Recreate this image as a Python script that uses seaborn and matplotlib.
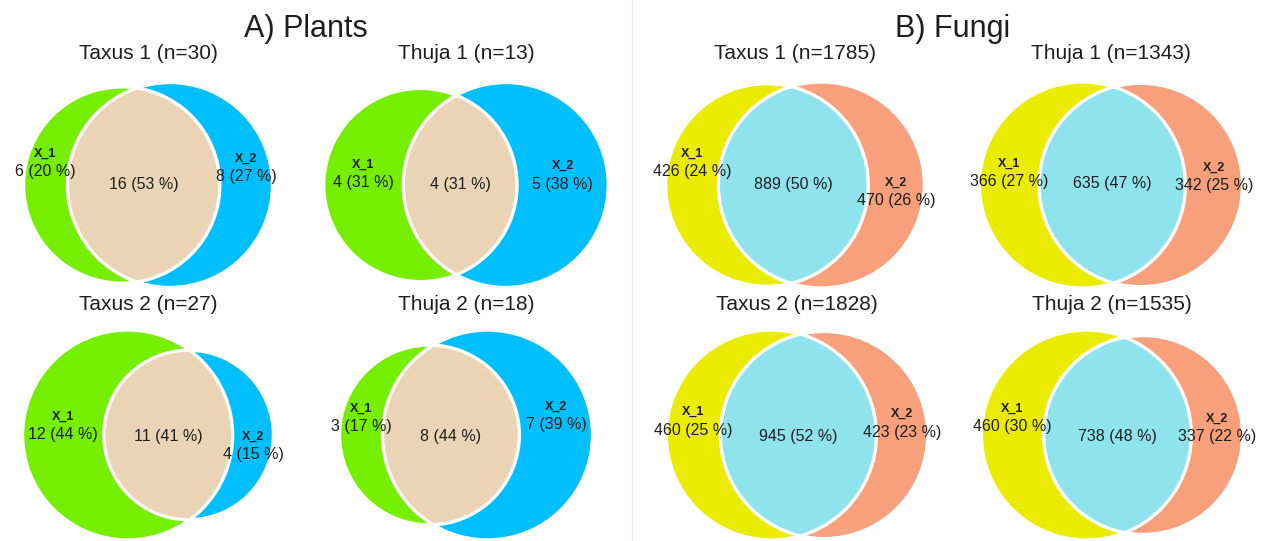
import numpy as np
import matplotlib
matplotlib.use("Agg")
import matplotlib.pyplot as plt
from matplotlib.patches import Circle
from matplotlib.lines import Line2D
import seaborn as sns

# ---------------- data ----------------
panel_titles = ["A) Plants", "B) Fungi"]
group_names = ["Taxus 1", "Thuja 1", "Taxus 2", "Thuja 2",
               "Taxus 1", "Thuja 1", "Taxus 2", "Thuja 2"]
set_names = ["X_1", "X_2"]
only_x1 = [6, 4, 12, 3, 426, 366, 460, 460]
both = [16, 4, 11, 8, 889, 635, 945, 738]
only_x2 = [8, 5, 4, 7, 470, 342, 423, 337]
panel_of = [0, 0, 0, 0, 1, 1, 1, 1]

plant_colors = ["#76EE00", "#00BFFF", "#EBD4B6"]
fungi_colors = ["#EBEB00", "#F8A07C", "#8EE3EC"]

# ---------------- layout (pixels) ----------------
W, H = 1268, 541
col_x = [148, 466, 148, 466, 795, 1111, 797, 1112]
row_y = [185, 185, 435, 435, 185, 185, 435, 435]
cell_h = [205, 205, 210, 210, 206, 206, 210, 210]
cell_w = 305
title_base = [59, 59, 310, 310, 59, 59, 310, 310]
panel_x = [306, 953]
# vertical offsets (px, + = down) of the count labels: X_1, both, X_2
lab_dy = [(-13, 0, -8), (-2, -1, -1), (0, 2, 20), (-8, 1, -10),
          (-13, 0, 16), (-3, -1, 1), (-5, 2, -3), (-8, 2, 2)]

sns.set_theme(style="white")
plt.rcParams["font.family"] = ["Liberation Sans", "DejaVu Sans"]
TXT = "#1e1e1e"


def lens_area(d, r1, r2):
    a1 = np.arccos(np.clip((d * d + r1 * r1 - r2 * r2) / (2 * d * r1), -1, 1))
    a2 = np.arccos(np.clip((d * d + r2 * r2 - r1 * r1) / (2 * d * r2), -1, 1))
    k = (-d + r1 + r2) * (d + r1 - r2) * (d - r1 + r2) * (d + r1 + r2)
    return r1 * r1 * a1 + r2 * r2 * a2 - 0.5 * np.sqrt(max(k, 0))


def solve_d(r1, r2, target):
    lo, hi = abs(r1 - r2) + 1e-9, r1 + r2
    for _ in range(100):
        mid = 0.5 * (lo + hi)
        if lens_area(mid, r1, r2) > target:
            lo = mid
        else:
            hi = mid
    return 0.5 * (lo + hi)


fig = plt.figure(figsize=(W / 100, H / 100), dpi=100)
fig.patch.set_facecolor("white")

for i in range(8):
    a, b, c = only_x1[i], both[i], only_x2[i]
    n = a + b + c
    s1, s2 = a + b, c + b
    r1, r2 = np.sqrt(s1 / np.pi), np.sqrt(s2 / np.pi)
    d = solve_d(r1, r2, b)
    cols = plant_colors if panel_of[i] == 0 else fungi_colors

    cx, cy, h = col_x[i], row_y[i], cell_h[i]
    ax = fig.add_axes([(cx - cell_w / 2) / W, 1 - (cy + h / 2) / H, cell_w / W, h / H])
    ax.set_axis_off()

    c1 = Circle((0, 0), r1, facecolor=cols[0], edgecolor="none")
    c2 = Circle((d, 0), r2, facecolor=cols[1], edgecolor="none")
    ax.add_patch(c1)
    ax.add_patch(c2)
    lens = Circle((d, 0), r2, facecolor=cols[2], edgecolor="none")
    ax.add_patch(lens)
    lens.set_clip_path(c1)
    for (x0, rr) in [(0, r1), (d, r2)]:
        ax.add_patch(Circle((x0, 0), rr, facecolor="none", edgecolor="white", lw=2.4))

    rmax = max(r1, r2)
    ax.set_xlim(-r1, d + r2)
    ax.set_ylim(-rmax, rmax)
    ax.set_aspect("equal", adjustable="datalim")

    xs = [(-r1 + d - r2) / 2, (d - r2 + r1) / 2, (r1 + d + r2) / 2]
    vals = [a, b, c]
    for j in range(3):
        dy = lab_dy[i][j]
        txt = f"{vals[j]} ({round(100 * vals[j] / n)} %)"
        ax.annotate(txt, (xs[j], 0), xytext=(0, -dy * 0.72), textcoords="offset points",
                    ha="center", va="center", fontsize=11.5, color=TXT)
        if j != 1:
            nm = set_names[0] if j == 0 else set_names[1]
            ax.annotate(nm, (xs[j], 0), xytext=(0, -(dy - 18) * 0.72),
                        textcoords="offset points", ha="center", va="center",
                        fontsize=9, fontweight="bold", color=TXT)

    fig.text(cx / W, 1 - title_base[i] / H, f"{group_names[i]} (n={n})",
             ha="center", va="baseline", fontsize=15, color=TXT)

for p in range(2):
    fig.text(panel_x[p] / W, 1 - 37 / H, panel_titles[p], ha="center",
             va="baseline", fontsize=22, color=TXT)

fig.add_artist(Line2D([632 / W, 632 / W], [0, 1], color="#eeeeee", lw=1))

fig.savefig("out.png", dpi=100, facecolor="white")
